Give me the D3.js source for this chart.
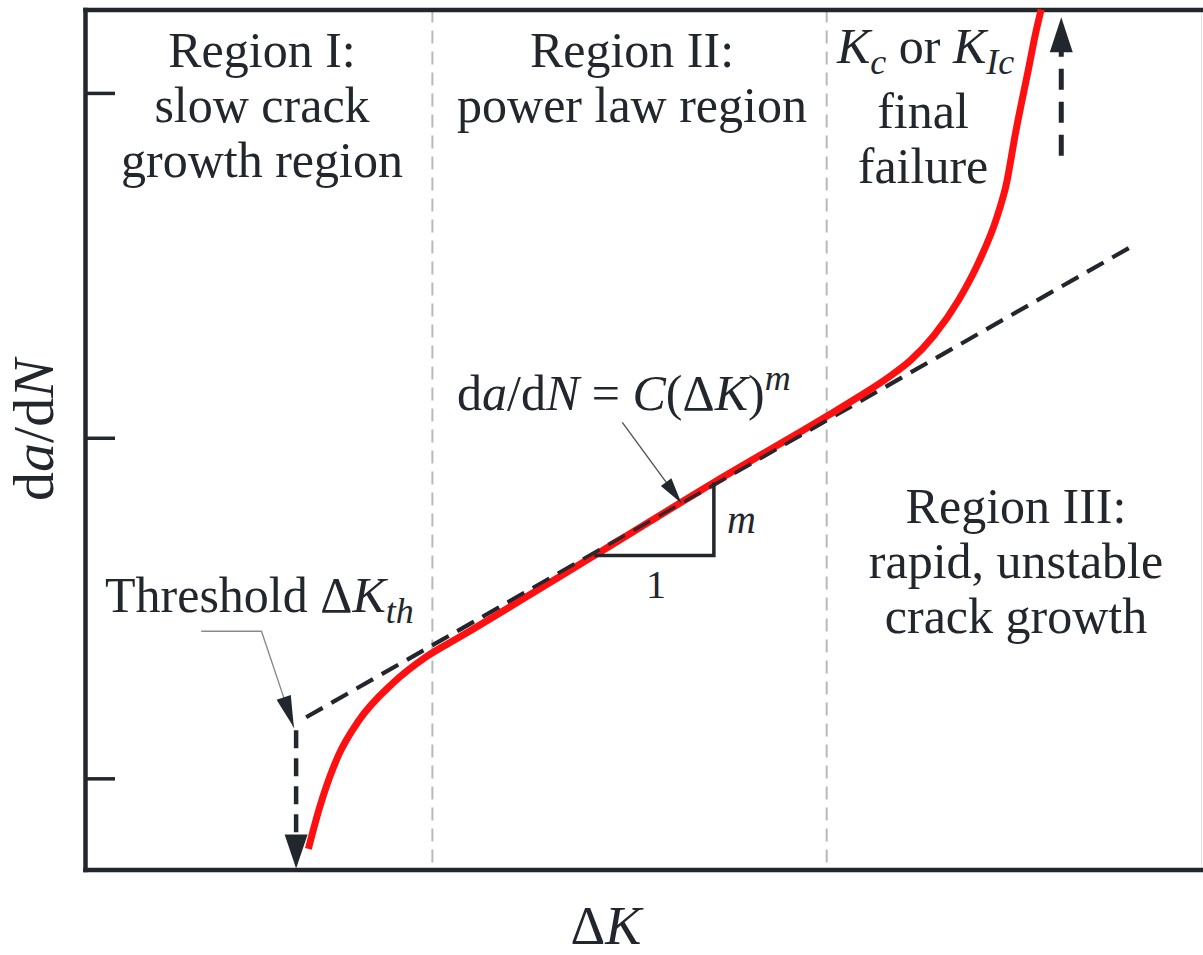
<!DOCTYPE html>
<html>
<head>
<meta charset="utf-8">
<script src="https://cdn.jsdelivr.net/npm/d3@7"></script>
<style>
  html, body { margin: 0; padding: 0; background: #fff; }
  svg { display: block; }
  svg#chart text, svg#chart tspan { font-family: "Liberation Serif", "Times New Roman", Tinos, serif !important; }
</style>
</head>
<body>
<svg id="chart" width="1203" height="955"></svg>
<script>
// Crack growth curve (log da/dN vs log ΔK, arbitrary units 0–100)
const curveDK   = [20.0, 21.0, 22.7, 24.5, 27.5, 30.5, 33.5, 45.6, 56.3, 66.4, 69.3, 72.0, 73.9, 76.0, 78.2, 80.0, 81.6, 82.5, 83.3, 84.5, 85.1, 85.6];
const curveRate = [ 2.4,  7.2, 13.3, 17.3, 21.6, 24.7, 27.0, 36.5, 45.0, 52.7, 55.0, 57.3, 59.2, 62.1, 66.2, 70.6, 75.7, 79.8, 85.6, 93.3, 97.2, 100.0];

// Paris-law straight line
const parisDK   = [19.8, 93.5];
const parisRate = [17.7, 72.3];

// Region boundaries on the ΔK axis
const regionBounds = [31.1, 66.4];

// Threshold and final-failure markers
const thresholdDK = 18.9, thresholdRate = 16.2;
const failureDK = 87.4, failureFrom = 83.0, failureTo = 99.1;

// Slope triangle (run 1, rise m)
const slopeDK   = [45.6, 56.3];
const slopeRate = [36.5, 45.0];

// Leader for the Paris-law equation
const eqLeaderDK   = [48.1, 53.4];
const eqLeaderRate = [52.0, 42.6];

// Leader for the threshold label
const thLeaderDK   = [10.4, 15.8, 18.7];
const thLeaderRate = [27.7, 27.7, 16.5];

// Y-axis tick marks (unlabelled)
const yTicks = [10.6, 50.2, 90.3];

// Region captions
const region1 = ["Region I:", "slow crack", "growth region"];
const region2 = ["Region II:", "power law region"];
const region3 = ["Region III:", "rapid, unstable", "crack growth"];
const failureLines = ["final", "failure"];

const ink = "#22262d";
const serif = '"Liberation Serif", "Times New Roman", Tinos, serif';
const svg = d3.select("#chart").attr("font-family", serif);

// make sure the serif faces are resolved before drawing text
const probe = document.createElement("canvas").getContext("2d");
["", "italic "].forEach(s => { probe.font = `${s}50px "Liberation Serif"`; probe.measureText("Region ΔK"); });

const x = d3.scaleLinear().domain([0, 100]).range([85, 1202]);
const y = d3.scaleLinear().domain([0, 100]).range([869.5, 9.5]);

// faint right border
svg.append("line")
  .attr("x1", 1201.5).attr("x2", 1201.5).attr("y1", y(100)).attr("y2", y(0))
  .attr("stroke", "#e4e4e4").attr("stroke-width", 1);

// region separators
svg.selectAll("line.sep").data(regionBounds).join("line")
  .attr("class", "sep")
  .attr("x1", d => x(d)).attr("x2", d => x(d))
  .attr("y1", y(100)).attr("y2", y(0))
  .attr("stroke", "#b9b9b9").attr("stroke-width", 2)
  .attr("stroke-dasharray", "13,8");

// axes frame
const yAxis = d3.axisLeft(y).tickValues(yTicks).tickSize(-30).tickSizeOuter(0).tickFormat("");
const gy = svg.append("g").attr("transform", `translate(${x(0)},0)`).call(yAxis);
const gb = svg.append("g").attr("transform", `translate(0,${y(0)})`)
  .call(d3.axisBottom(x).tickValues([]).tickSizeOuter(0));
const gt = svg.append("g").attr("transform", `translate(0,${y(100)})`)
  .call(d3.axisTop(x).tickValues([]).tickSizeOuter(0));
[gy, gb, gt].forEach(g => {
  g.attr("font-family", serif);
  g.select(".domain").attr("stroke", ink).attr("stroke-width", 4.5).attr("stroke-linecap", "square");
  g.selectAll(".tick line").attr("stroke", ink).attr("stroke-width", 3.5);
});

// Paris-law dashed line
const parisLine = d3.line().x(d => x(d[0])).y(d => y(d[1]));
svg.append("path")
  .datum(d3.zip(parisDK, parisRate))
  .attr("d", parisLine)
  .attr("fill", "none").attr("stroke", ink).attr("stroke-width", 4.2)
  .attr("stroke-dasharray", "19,10");

// red crack growth curve
svg.append("path")
  .datum(d3.zip(curveDK, curveRate))
  .attr("d", d3.line().x(d => x(d[0])).y(d => y(d[1])).curve(d3.curveMonotoneX))
  .attr("fill", "none").attr("stroke", "#ff1010").attr("stroke-width", 7)
  .attr("stroke-linecap", "butt");

// dashes stay visible on top of the red line in Region II
svg.append("clipPath").attr("id", "midClip").append("rect")
  .attr("x", x(regionBounds[0])).attr("width", x(regionBounds[1]) - x(regionBounds[0]))
  .attr("y", 0).attr("height", 955);
svg.append("path")
  .datum(d3.zip(parisDK, parisRate))
  .attr("d", parisLine)
  .attr("fill", "none").attr("stroke", ink).attr("stroke-width", 3.2)
  .attr("stroke-dasharray", "19,10").attr("opacity", 0.9)
  .attr("clip-path", "url(#midClip)");

// arrowhead helper: filled triangle with tip at (tx,ty) pointing along (dx,dy)
function arrowHead(tx, ty, dx, dy, len, half) {
  const n = Math.hypot(dx, dy), ux = dx / n, uy = dy / n;
  const bx = tx - ux * len, by = ty - uy * len;
  return `M${tx},${ty}L${bx - uy * half},${by + ux * half}L${bx + uy * half},${by - ux * half}Z`;
}

// threshold dashed arrow (down to the ΔK axis)
const thHeadLen = 34;
svg.append("line")
  .attr("x1", x(thresholdDK)).attr("x2", x(thresholdDK))
  .attr("y1", y(thresholdRate)).attr("y2", y(0) - thHeadLen + 2)
  .attr("stroke", ink).attr("stroke-width", 4.5).attr("stroke-dasharray", "18,10");
svg.append("path")
  .attr("d", arrowHead(x(thresholdDK), y(0) - 1, 0, 1, thHeadLen, 11.5))
  .attr("fill", ink);

// final failure dashed arrow (upwards)
svg.append("line")
  .attr("x1", x(failureDK)).attr("x2", x(failureDK))
  .attr("y1", y(failureFrom)).attr("y2", y(failureTo) + 32)
  .attr("stroke", ink).attr("stroke-width", 5).attr("stroke-dasharray", "21,12");
svg.append("path")
  .attr("d", arrowHead(x(failureDK), y(failureTo), 0, -1, 35, 11.5))
  .attr("fill", ink);

// slope triangle
svg.append("path")
  .attr("d", `M${x(slopeDK[0])},${y(slopeRate[0])}H${x(slopeDK[1])}V${y(slopeRate[1])}`)
  .attr("fill", "none").attr("stroke", ink).attr("stroke-width", 3.5);

// equation leader
{
  const x0 = x(eqLeaderDK[0]), y0 = y(eqLeaderRate[0]);
  const x1 = x(eqLeaderDK[1]), y1 = y(eqLeaderRate[1]);
  svg.append("line").attr("x1", x0).attr("y1", y0).attr("x2", x1).attr("y2", y1)
    .attr("stroke", "#555").attr("stroke-width", 1.4);
  svg.append("path").attr("d", arrowHead(x1, y1, x1 - x0, y1 - y0, 26, 6.5)).attr("fill", ink);
}

// threshold leader
{
  const pts = d3.zip(thLeaderDK, thLeaderRate).map(d => [x(d[0]), y(d[1])]);
  svg.append("path").attr("d", d3.line()(pts))
    .attr("fill", "none").attr("stroke", "#8a8a8a").attr("stroke-width", 1.4);
  const a = pts[pts.length - 2], b = pts[pts.length - 1];
  svg.append("path").attr("d", arrowHead(b[0], b[1], b[0] - a[0], b[1] - a[1], 32, 7.5)).attr("fill", ink);
}

// ---- text ----
const fs = 50, lh = 55, subFs = 36;
function addText() {
  return svg.append("text").attr("font-family", serif).attr("fill", ink).attr("font-size", fs);
}
function block(lines, cx, y0) {
  const t = addText().attr("text-anchor", "middle");
  lines.forEach((s, i) => t.append("tspan").attr("x", cx).attr("y", y0 + i * lh).text(s));
}
block(region1, 262, 67);
block(region2, 632, 67);
block(region3, 1016, 523);
block(failureLines, 923, 128);

// K_c or K_Ic
{
  const t = addText().attr("x", 837).attr("y", 63);
  t.append("tspan").attr("font-style", "italic").text("K");
  t.append("tspan").attr("font-style", "italic").attr("font-size", subFs).attr("dy", 11).text("c");
  t.append("tspan").attr("dy", -11).text(" or ");
  t.append("tspan").attr("font-style", "italic").text("K");
  t.append("tspan").attr("font-style", "italic").attr("font-size", subFs).attr("dy", 11).text("Ic");
}

// Threshold ΔK_th
{
  const t = addText().attr("x", 105).attr("y", 612);
  t.append("tspan").text("Threshold Δ");
  t.append("tspan").attr("font-style", "italic").text("K");
  t.append("tspan").attr("font-style", "italic").attr("font-size", subFs).attr("dy", 11).text("th");
}

// da/dN = C(ΔK)^m
{
  const t = addText().attr("x", 457).attr("y", 410);
  t.append("tspan").text("d");
  t.append("tspan").attr("font-style", "italic").text("a");
  t.append("tspan").text("/d");
  t.append("tspan").attr("font-style", "italic").text("N");
  t.append("tspan").text(" = ");
  t.append("tspan").attr("font-style", "italic").text("C");
  t.append("tspan").text("(Δ");
  t.append("tspan").attr("font-style", "italic").text("K");
  t.append("tspan").text(")");
  t.append("tspan").attr("font-style", "italic").attr("font-size", subFs).attr("dy", -20).text("m");
}

// slope labels
addText().attr("x", 727).attr("y", 533).attr("font-size", 40)
  .attr("font-style", "italic").text("m");
addText().attr("x", x(d3.mean(slopeDK)) + 2).attr("y", 598).attr("font-size", 40)
  .attr("text-anchor", "middle").text("1");

// axis titles
{
  const t = addText().attr("font-size", 58).attr("text-anchor", "middle")
    .attr("transform", "translate(53,430) rotate(-90)");
  t.append("tspan").text("d");
  t.append("tspan").attr("font-style", "italic").text("a");
  t.append("tspan").text("/d");
  t.append("tspan").attr("font-style", "italic").text("N");
}
{
  const t = addText().attr("font-size", 54).attr("text-anchor", "middle")
    .attr("x", 606).attr("y", 944);
  t.append("tspan").text("Δ");
  t.append("tspan").attr("font-style", "italic").text("K");
}

// every tspan carries the serif family as well
svg.selectAll("tspan").attr("font-family", serif);
// force text layout with the resolved faces
svg.selectAll("text").each(function () { this.getComputedTextLength(); });
</script>
</body>
</html>
